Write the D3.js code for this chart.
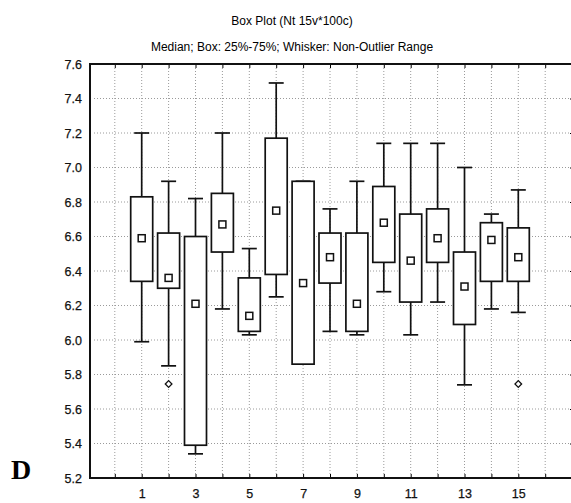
<!DOCTYPE html>
<html>
<head>
<meta charset="utf-8">
<script src="https://cdn.jsdelivr.net/npm/d3@7"></script>
<style>
  body { margin: 0; background: #fff; }
  svg { display: block; font-family: "Liberation Sans", Arial, sans-serif; }
</style>
</head>
<body>
<div id="chart"></div>
<script>
// values
const categories = [1, 2, 3, 4, 5, 6, 7, 8, 9, 10, 11, 12, 13, 14, 15];
const whiskerHigh = [7.20, 6.92, 6.82, 7.20, 6.53, 7.49, 6.92, 6.76, 6.92, 7.14, 7.14, 7.14, 7.00, 6.73, 6.87];
const boxHigh     = [6.83, 6.62, 6.60, 6.85, 6.36, 7.17, 6.92, 6.62, 6.62, 6.89, 6.73, 6.76, 6.51, 6.68, 6.65];
const medians     = [6.59, 6.36, 6.21, 6.67, 6.14, 6.75, 6.33, 6.48, 6.21, 6.68, 6.46, 6.59, 6.31, 6.58, 6.48];
const boxLow      = [6.34, 6.30, 5.39, 6.51, 6.05, 6.38, 5.86, 6.33, 6.05, 6.45, 6.22, 6.45, 6.09, 6.34, 6.34];
const whiskerLow  = [5.99, 5.85, 5.34, 6.18, 6.03, 6.25, 5.86, 6.05, 6.03, 6.28, 6.03, 6.22, 5.74, 6.18, 6.16];
const outlierCats = [2, 15];
const outlierVals = [5.745, 5.745];
const yTicks = [5.2, 5.4, 5.6, 5.8, 6.0, 6.2, 6.4, 6.6, 6.8, 7.0, 7.2, 7.4, 7.6];
const xLabels = [1, 3, 5, 7, 9, 11, 13, 15];
const gridCats = d3.range(0, 17);

const width = 571, height = 503;
const frame = { left: 90, right: 575, top: 64, bottom: 478 };

const svg = d3.select("#chart").append("svg")
    .attr("width", width)
    .attr("height", height);

const x = d3.scaleLinear().domain([0, 16]).range([114.8, 545.2]);
const y = d3.scaleLinear().domain([5.2, 7.6]).range([frame.bottom, frame.top]);

// titles
svg.append("text")
    .attr("x", 292).attr("y", 25)
    .attr("text-anchor", "middle")
    .style("font-size", "12px")
    .text("Box Plot (Nt 15v*100c)");
svg.append("text")
    .attr("x", 292).attr("y", 51)
    .attr("text-anchor", "middle")
    .style("font-size", "12px")
    .text("Median; Box: 25%-75%; Whisker: Non-Outlier Range");

// panel letter
svg.append("text")
    .attr("x", 11).attr("y", 479)
    .style("font-family", "'Liberation Serif', 'Times New Roman', serif")
    .style("font-weight", "bold")
    .style("font-size", "28px")
    .text("D");

// dotted grid
const grid = svg.append("g")
    .attr("stroke", "#9a9a9a")
    .attr("stroke-width", 1)
    .attr("stroke-dasharray", "1,2");
grid.selectAll("line.h")
    .data(yTicks.slice(1, -1))
    .enter().append("line")
    .attr("x1", frame.left + 4).attr("x2", frame.right)
    .attr("y1", d => y(d)).attr("y2", d => y(d));
grid.selectAll("line.v")
    .data(gridCats)
    .enter().append("line")
    .attr("x1", d => x(d)).attr("x2", d => x(d))
    .attr("y1", frame.top + 4).attr("y2", frame.bottom - 3);

// inward ticks on all sides
svg.append("g")
    .attr("transform", `translate(0,${frame.bottom})`)
    .call(d3.axisBottom(x).tickValues(gridCats).tickSize(-4).tickFormat(""))
    .call(g => g.select(".domain").remove());
svg.append("g")
    .attr("transform", `translate(0,${frame.top})`)
    .call(d3.axisTop(x).tickValues(gridCats).tickSize(-4).tickFormat(""))
    .call(g => g.select(".domain").remove());
svg.append("g")
    .attr("transform", `translate(${frame.right},0)`)
    .call(d3.axisRight(y).tickValues(yTicks).tickSize(-5).tickFormat(""))
    .call(g => g.select(".domain").remove());

// frame
svg.append("rect")
    .attr("x", frame.left).attr("y", frame.top)
    .attr("width", frame.right - frame.left)
    .attr("height", frame.bottom - frame.top)
    .attr("fill", "none")
    .attr("stroke", "#111")
    .attr("stroke-width", 2);

// axis labels
const yAxis = svg.append("g")
    .attr("transform", `translate(${frame.left},0)`)
    .call(d3.axisLeft(y).tickValues(yTicks).tickSize(0).tickPadding(8).tickFormat(d3.format(".1f")));
yAxis.select(".domain").remove();
yAxis.selectAll("text").style("font-size", "12.5px").attr("fill", "#111")
    .attr("stroke", "#111").attr("stroke-width", 0.25);

const xAxis = svg.append("g")
    .attr("transform", `translate(0,${frame.bottom})`)
    .call(d3.axisBottom(x).tickValues(xLabels).tickSize(0).tickPadding(11).tickFormat(d3.format("d")));
xAxis.select(".domain").remove();
xAxis.selectAll("text").style("font-size", "12.5px").attr("fill", "#111")
    .attr("stroke", "#111").attr("stroke-width", 0.25);

// boxes
const boxW = 22, capW = 15, medS = 7;
const ink = "#111";
const boxes = svg.append("g")
    .attr("stroke", ink)
    .attr("stroke-width", 1.7);

const groups = boxes.selectAll("g.box")
    .data(categories.map((c, i) => ({
        c, wh: whiskerHigh[i], bh: boxHigh[i], md: medians[i], bl: boxLow[i], wl: whiskerLow[i]
    })))
    .enter().append("g").attr("class", "box");

groups.append("line")
    .attr("x1", d => x(d.c)).attr("x2", d => x(d.c))
    .attr("y1", d => y(d.wh)).attr("y2", d => y(d.wl));
groups.append("line")
    .attr("x1", d => x(d.c) - capW / 2).attr("x2", d => x(d.c) + capW / 2)
    .attr("y1", d => y(d.wh)).attr("y2", d => y(d.wh));
groups.append("line")
    .attr("x1", d => x(d.c) - capW / 2).attr("x2", d => x(d.c) + capW / 2)
    .attr("y1", d => y(d.wl)).attr("y2", d => y(d.wl));
groups.append("rect")
    .attr("x", d => x(d.c) - boxW / 2)
    .attr("y", d => y(d.bh))
    .attr("width", boxW)
    .attr("height", d => y(d.bl) - y(d.bh))
    .attr("fill", "#fff");
groups.append("rect")
    .attr("x", d => x(d.c) - medS / 2)
    .attr("y", d => y(d.md) - medS / 2)
    .attr("width", medS).attr("height", medS)
    .attr("fill", "#fff")
    .attr("stroke-width", 1.5);

// outliers (small rotated squares)
boxes.selectAll("path.outlier")
    .data(outlierCats.map((c, i) => ({ c, v: outlierVals[i] })))
    .enter().append("path")
    .attr("d", d3.symbol(d3.symbolSquare, 22))
    .attr("transform", d => `translate(${x(d.c)},${y(d.v)}) rotate(45)`)
    .attr("fill", "#fff")
    .attr("stroke-width", 1.3);
</script>
</body>
</html>
